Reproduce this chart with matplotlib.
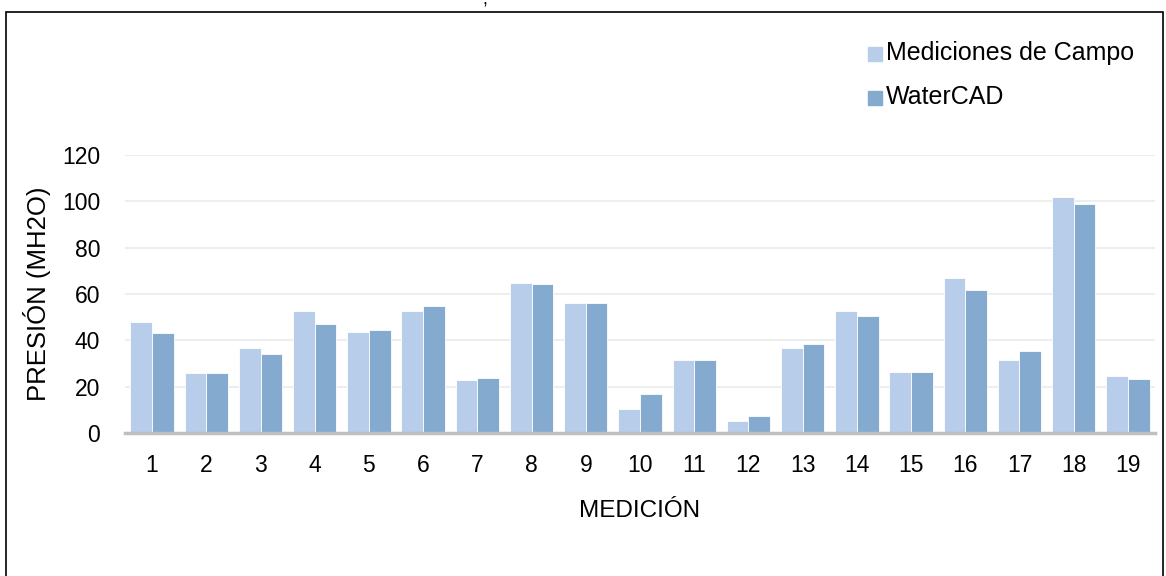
import matplotlib
matplotlib.use("Agg")
import matplotlib.pyplot as plt
import numpy as np
from matplotlib.patches import Rectangle

plt.rcParams["font.family"] = ["Liberation Sans", "DejaVu Sans"]

mediciones = [str(i) for i in range(1, 20)]
campo = [48, 26, 36.6, 52.5, 43.4, 52.5, 22.7, 64.8, 56, 10.3, 31.5, 5, 36.7, 52.5, 26.2, 66.7, 31.5, 101.7, 24.4]
watercad = [43, 26, 34, 47.2, 44.4, 54.7, 23.9, 64.3, 56, 16.7, 31.7, 7.2, 38.6, 50.6, 26.2, 61.6, 35.3, 98.9, 23.2]
yticks = [0, 20, 40, 60, 80, 100, 120]

c_campo = "#B7CDEA"
c_wcad = "#84AACF"

W, H = 1166, 576
fig = plt.figure(figsize=(W / 100, H / 100), dpi=100)
ax = fig.add_axes([125 / W, (H - 433) / H, 1030 / W, 278 / H])

x = np.arange(len(mediciones))
w = 0.4
ax.bar(x - w / 2, campo, w, color=c_campo, edgecolor="white", linewidth=0.6,
       label="Mediciones de Campo", zorder=2)
ax.bar(x + w / 2, watercad, w, color=c_wcad, edgecolor="white", linewidth=0.6,
       label="WaterCAD", zorder=2)

ax.set_xlim(-0.5, len(mediciones) - 0.5)
ax.set_ylim(0, 120)
ax.set_yticks(yticks)
ax.set_xticks(x)
ax.set_xticklabels(mediciones)
ax.grid(axis="y", color="#EEEEEE", lw=1.5, zorder=0)
ax.set_axisbelow(True)
for s in ["top", "right", "left"]:
    ax.spines[s].set_visible(False)
ax.spines["bottom"].set_color("#BFBFBF")
ax.spines["bottom"].set_linewidth(2.5)
ax.spines["bottom"].set_zorder(3)
ax.tick_params(axis="both", length=0, labelsize=16.5, colors="black")
ax.tick_params(axis="y", pad=18)
ax.tick_params(axis="x", pad=15)
ax.set_xlabel("MEDICIÓN", fontsize=17.5, labelpad=17)
ax.set_ylabel("PRESIÓN (MH2O)", fontsize=18.5, labelpad=8)

# legend: colour squares + labels, placed in figure pixels
for i, (lab, col) in enumerate([("Mediciones de Campo", c_campo), ("WaterCAD", c_wcad)]):
    yc = H - (53 + 44 * i)
    fig.add_artist(Rectangle((868 / W, (yc - 8) / H), 14 / W, 14 / H,
                             transform=fig.transFigure, color=col))
    fig.text(886 / W, yc / H, lab, fontsize=18, va="center", ha="left")

# outer frame
fig.add_artist(Rectangle((6 / W, -0.01), 1157 / W, (H - 12) / H + 0.01,
                         transform=fig.transFigure, fill=False, edgecolor="black", lw=1.2))
fig.text(485 / W, 1.0, ",", fontsize=13, ha="center", va="center")

fig.savefig("out.png", dpi=100)
